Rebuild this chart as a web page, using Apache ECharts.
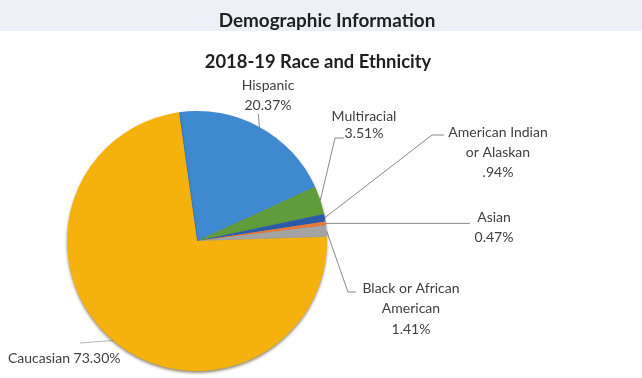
<!DOCTYPE html>
<html>
<head>
<meta charset="utf-8">
<title>2018-19 Race and Ethnicity</title>
<script src="https://cdn.jsdelivr.net/npm/echarts@6/dist/echarts.min.js"></script>
<style>
  html, body { margin: 0; padding: 0; background: #ffffff; }
  #chart { width: 642px; height: 378px; }
</style>
</head>
<body>
<div id="chart"></div>
<script>
// Enrollment share by race / ethnicity, 2018-19
const categories = ['Hispanic', 'Multiracial', 'American Indian\nor Alaskan', 'Asian', 'Black or African\nAmerican', 'Caucasian'];
const values = [20.37, 3.51, 0.94, 0.47, 1.41, 73.30];
const valueLabels = ['20.37%', '3.51%', '.94%', '0.47%', '1.41%', '73.30%'];

const colors = ['#3f89d1', '#5f9c3c', '#2a5cab', '#e9783a', '#a3a3a3', '#f5b20c'];

// Where each label block sits (top-centre of the text, or left edge for the last one)
const labelSpots = [
  { x: 268, y: 75, align: 'center', lh: 20 },
  { x: 364, y: 108, align: 'center', lh: 17 },
  { x: 498, y: 122, align: 'center', lh: 20 },
  { x: 494, y: 207, align: 'center', lh: 20 },
  { x: 411, y: 278, align: 'center', lh: 20.5 },
  { x: 8, y: 350, align: 'left', lh: 16 }
];

// Leader line routing, from the slice edge to the label
function leader(i, edge) {
  const s = labelSpots[i];
  switch (i) {
    case 0: return [edge, [edge[0] - 1, s.y + 39]];
    case 1: return [edge, [s.x - 29, s.y + 30], [s.x - 20, s.y + 30]];
    case 2: return [edge, [s.x - 66, s.y + 13], [s.x - 54, s.y + 13]];
    case 3: return [edge, [s.x - 24, edge[1]]];
    case 4: return [edge, [s.x - 63, s.y + 14], [s.x - 55, s.y + 14]];
    default: return [edge, [s.x + 72, s.y - 7]];
  }
}

const chart = echarts.init(document.getElementById('chart'), null, { renderer: 'canvas' });

chart.setOption({
  backgroundColor: '#ffffff',
  animation: false,
  graphic: [
    { type: 'rect', left: 0, top: 0, z: -10, shape: { width: 642, height: 31 }, style: { fill: '#edf0f7' } }
  ],
  title: [
    {
      text: 'Demographic Information',
      left: 322, top: 6, textAlign: 'center',
      textStyle: { fontFamily: 'Lato', fontWeight: 'bold', fontSize: 18.9, color: '#1f1f1f' }
    },
    {
      text: '2018-19 Race and Ethnicity',
      left: 313, top: 48, textAlign: 'center',
      textStyle: { fontFamily: 'Lato', fontWeight: 'bold', fontSize: 18.4, color: '#1f1f1f' }
    }
  ],
  series: [{
    type: 'pie',
    center: [197, 241],
    radius: 130,
    startAngle: 98,
    clockwise: true,
    avoidLabelOverlap: false,
    data: categories.map((name, i) => ({
      name: name,
      value: values[i],
      itemStyle: { color: colors[i] },
      label: { lineHeight: labelSpots[i].lh },
      labelLine: i === 5 ? { lineStyle: { type: 'dotted', color: '#6f6f6f' } } : {}
    })),
    itemStyle: {
      borderWidth: 0,
      shadowColor: 'rgba(70, 45, 0, 0.55)',
      shadowBlur: 3,
      shadowOffsetY: 2
    },
    label: {
      show: true,
      position: 'outside',
      fontFamily: 'Lato',
      fontSize: 14,
      color: '#404040',
      formatter: p => p.dataIndex === 5
        ? p.name + ' ' + valueLabels[p.dataIndex]
        : p.name + '\n' + valueLabels[p.dataIndex]
    },
    labelLine: {
      show: true,
      smooth: false,
      lineStyle: { color: '#8a8a8a', width: 1 }
    },
    labelLayout: function (params) {
      const i = params.dataIndex;
      const s = labelSpots[i];
      const edge = params.labelLinePoints ? params.labelLinePoints[0] : [0, 0];
      return {
        x: s.x,
        y: s.y,
        align: s.align,
        verticalAlign: 'top',
        labelLinePoints: leader(i, edge)
      };
    }
  }]
});
</script>
</body>
</html>
